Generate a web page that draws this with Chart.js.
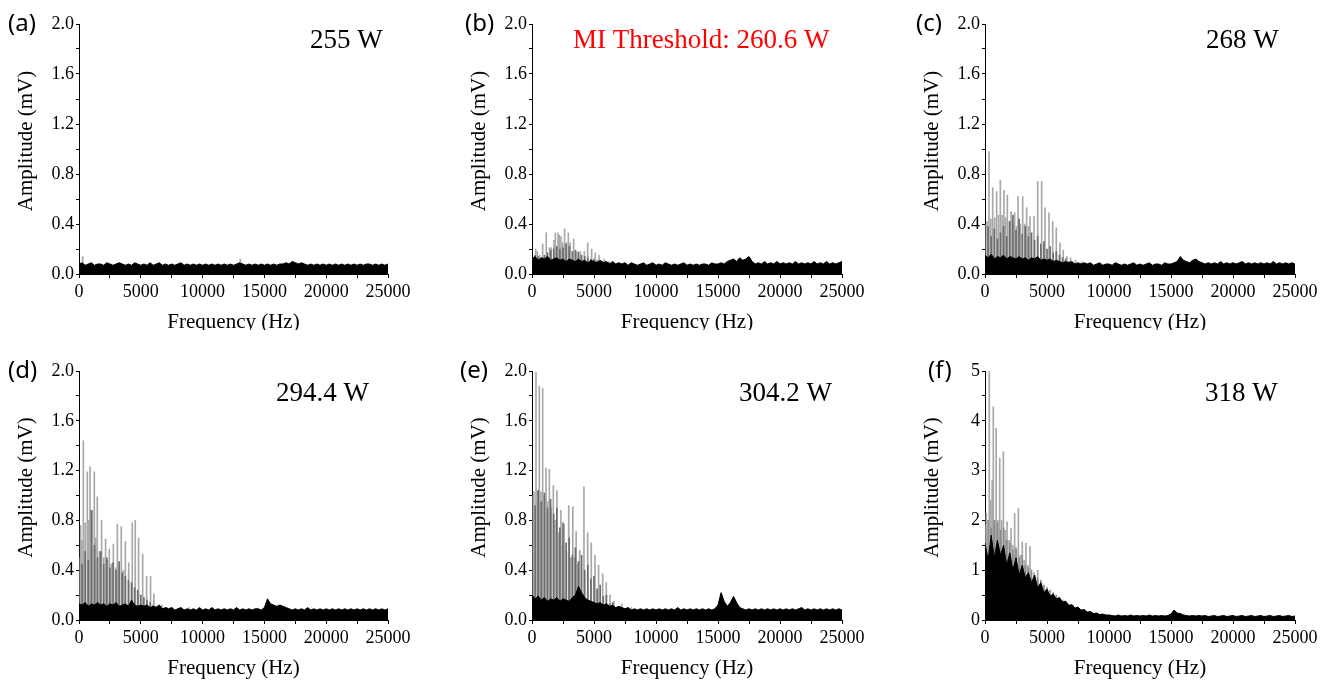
<!DOCTYPE html>
<html><head><meta charset="utf-8">
<script src="https://cdn.jsdelivr.net/npm/chart.js@4/dist/chart.umd.min.js"></script>
<style>
html,body{margin:0;padding:0;background:#fff;}
#wrap{position:relative;width:1329px;height:681px;overflow:hidden;background:#fff;}
.cell{position:absolute;overflow:hidden;}
canvas{display:block;}
</style></head><body><div id="wrap"></div>
<script>
// ---------------- DATA ----------------
const freq = [0,250,500,750,1000,1250,1500,1750,2000,2250,2500,2750,3000,3250,3500,3750,4000,4250,4500,4750,
5000,5250,5500,5750,6000,6250,6500,6750,7000,7250,7500,7750,8000,8250,8500,8750,9000,9250,9500,9750,
10000,10250,10500,10750,11000,11250,11500,11750,12000,12250,12500,12750,13000,13250,13500,13750,14000,14250,14500,14750,
15000,15250,15500,15750,16000,16250,16500,16750,17000,17250,17500,17750,18000,18250,18500,18750,19000,19250,19500,19750,
20000,20250,20500,20750,21000,21250,21500,21750,22000,22250,22500,22750,23000,23250,23500,23750,24000,24250,24500,24750,25000];

const xTicks = [0,5000,10000,15000,20000,25000];

// black noise band (upper envelope, mV) on the freq grid
const noiseA = [0.08,0.09,0.07,0.08,0.09,0.07,0.08,0.08,0.07,0.09,0.08,0.07,0.08,0.09,0.08,0.07,0.08,0.07,0.09,0.08,
0.07,0.08,0.07,0.09,0.07,0.08,0.09,0.07,0.08,0.07,0.08,0.07,0.08,0.09,0.07,0.08,0.07,0.08,0.07,0.08,
0.07,0.08,0.07,0.08,0.07,0.08,0.07,0.08,0.07,0.08,0.07,0.08,0.09,0.08,0.07,0.08,0.07,0.08,0.07,0.08,
0.07,0.08,0.07,0.08,0.07,0.08,0.08,0.09,0.08,0.10,0.09,0.08,0.09,0.08,0.07,0.08,0.07,0.08,0.07,0.08,
0.07,0.08,0.07,0.08,0.07,0.08,0.07,0.08,0.07,0.08,0.07,0.08,0.07,0.08,0.08,0.07,0.08,0.07,0.08,0.07,0.08];
const noiseB = [0.12,0.14,0.11,0.13,0.12,0.14,0.11,0.12,0.13,0.11,0.12,0.10,0.12,0.11,0.10,0.12,0.10,0.11,0.09,0.11,
0.10,0.09,0.11,0.09,0.10,0.08,0.10,0.08,0.09,0.08,0.09,0.07,0.09,0.08,0.07,0.08,0.09,0.07,0.08,0.09,
0.07,0.08,0.07,0.09,0.08,0.07,0.08,0.07,0.08,0.09,0.07,0.08,0.07,0.08,0.07,0.08,0.08,0.07,0.09,0.08,
0.08,0.09,0.08,0.10,0.11,0.12,0.10,0.13,0.11,0.12,0.14,0.10,0.08,0.09,0.08,0.10,0.08,0.09,0.08,0.10,
0.08,0.09,0.08,0.09,0.08,0.10,0.08,0.09,0.08,0.09,0.08,0.10,0.08,0.09,0.08,0.10,0.08,0.09,0.08,0.09,0.10];
const noiseC = [0.15,0.13,0.16,0.12,0.14,0.13,0.15,0.12,0.14,0.13,0.12,0.14,0.12,0.13,0.11,0.13,0.12,0.14,0.11,0.12,
0.11,0.12,0.10,0.11,0.10,0.09,0.10,0.09,0.10,0.08,0.09,0.08,0.09,0.08,0.09,0.07,0.08,0.09,0.07,0.08,
0.08,0.07,0.09,0.08,0.07,0.08,0.07,0.08,0.09,0.07,0.08,0.07,0.08,0.09,0.07,0.08,0.08,0.07,0.09,0.08,
0.08,0.09,0.10,0.14,0.11,0.10,0.09,0.11,0.12,0.10,0.09,0.08,0.09,0.08,0.09,0.08,0.10,0.08,0.09,0.08,
0.09,0.08,0.09,0.10,0.08,0.09,0.08,0.09,0.08,0.09,0.08,0.09,0.08,0.10,0.08,0.09,0.08,0.09,0.08,0.09,0.08];
const noiseD = [0.13,0.12,0.14,0.11,0.13,0.12,0.14,0.12,0.13,0.11,0.13,0.12,0.14,0.11,0.12,0.13,0.11,0.16,0.12,0.11,
0.12,0.11,0.12,0.10,0.11,0.10,0.12,0.09,0.10,0.09,0.10,0.08,0.09,0.10,0.08,0.09,0.08,0.09,0.08,0.10,
0.08,0.09,0.08,0.10,0.08,0.09,0.08,0.09,0.08,0.09,0.08,0.10,0.08,0.09,0.08,0.09,0.08,0.09,0.09,0.08,
0.10,0.17,0.13,0.12,0.11,0.12,0.11,0.10,0.09,0.08,0.09,0.08,0.09,0.08,0.10,0.08,0.09,0.08,0.09,0.08,
0.09,0.08,0.09,0.08,0.09,0.08,0.09,0.08,0.09,0.08,0.09,0.08,0.09,0.08,0.09,0.08,0.09,0.08,0.09,0.08,0.09];
const noiseE = [0.20,0.17,0.19,0.16,0.18,0.15,0.17,0.16,0.18,0.15,0.17,0.16,0.15,0.18,0.20,0.27,0.22,0.18,0.16,0.15,
0.14,0.13,0.14,0.12,0.13,0.11,0.12,0.10,0.11,0.10,0.09,0.10,0.08,0.09,0.08,0.09,0.08,0.09,0.08,0.09,
0.08,0.09,0.08,0.09,0.08,0.09,0.08,0.10,0.08,0.09,0.08,0.09,0.08,0.09,0.08,0.09,0.08,0.09,0.08,0.09,
0.12,0.22,0.15,0.11,0.14,0.19,0.14,0.10,0.09,0.08,0.09,0.08,0.09,0.08,0.09,0.08,0.09,0.08,0.09,0.08,
0.09,0.08,0.09,0.08,0.09,0.08,0.09,0.10,0.08,0.09,0.08,0.09,0.08,0.09,0.08,0.09,0.08,0.09,0.08,0.09,0.08];
const noiseF = [1.55,1.20,1.70,1.25,1.60,1.30,1.50,1.10,1.35,1.00,
1.25,0.90,1.10,0.85,0.95,0.75,0.90,0.65,0.75,0.55,
0.62,0.48,0.52,0.42,0.45,0.36,0.38,0.29,0.31,0.24,
0.26,0.20,0.21,0.16,0.17,0.13,0.14,0.11,0.12,0.10,
0.10,0.09,0.08,0.10,0.08,0.09,0.08,0.10,0.08,0.09,
0.08,0.09,0.08,0.10,0.08,0.09,0.08,0.09,0.08,0.09,
0.12,0.20,0.14,0.13,0.10,0.09,0.08,0.09,0.08,0.09,
0.08,0.09,0.07,0.08,0.09,0.07,0.08,0.09,0.07,0.08,
0.09,0.07,0.08,0.09,0.07,0.08,0.09,0.07,0.08,0.09,
0.07,0.08,0.09,0.07,0.08,0.09,0.07,0.08,0.09,0.07,0.08];

// dark-grey haze below 7000 Hz (first 29 points of freq)
const hazeB = [0.12,0.15,0.14,0.13,0.15,0.17,0.19,0.20,0.22,0.20,0.21,0.24,0.22,0.18,0.19,0.17,0.15,0.14,0.13,0.12,0.12,0.11,0.10,0.10,0.09,0.09,0.08,0.08,0.08];
const hazeC = [0.40,0.38,0.30,0.36,0.28,0.33,0.38,0.30,0.42,0.47,0.35,0.44,0.32,0.38,0.30,0.33,0.27,0.30,0.24,0.26,0.20,0.22,0.17,0.18,0.15,0.13,0.12,0.10,0.09];
const hazeD = [0.50,0.45,0.55,0.48,0.88,0.60,0.50,0.55,0.45,0.50,0.42,0.46,0.40,0.47,0.38,0.35,0.32,0.30,0.26,0.24,0.20,0.18,0.16,0.14,0.12,0.11,0.10,0.09,0.08];
const hazeE = [1.00,0.92,1.04,0.95,1.02,0.90,0.97,0.85,0.90,0.74,0.78,0.62,0.66,0.52,0.58,0.47,0.52,0.40,0.44,0.33,0.35,0.25,0.28,0.19,0.20,0.13,0.14,0.09,0.08];
const hazeF = [1.90,2.00,1.85,2.00,1.95,1.80,1.85,1.60,1.55,1.40,1.45,1.25,1.30,1.10,1.05,1.00,0.90,0.85,0.80,0.70,0.65,0.60,0.55,0.50,0.45,0.40,0.35,0.32,0.30];

// light-grey harmonic spikes
const spikeHzA = [300,13050,17300];
const spikeAmpA = [0.14,0.12,0.10];
const spikeHzB = [300,430,600,860,1150,1420,1550,1770,1880,2100,2200,2340,2470,2630,2780,2930,3080,3360,3550,3720,3900,4220,4490,4810,5100,5400,5830,6200];
const spikeAmpB = [0.20,0.18,0.15,0.24,0.33,0.21,0.21,0.27,0.33,0.33,0.31,0.30,0.25,0.36,0.25,0.33,0.25,0.28,0.18,0.18,0.18,0.18,0.25,0.20,0.17,0.15,0.12,0.10];
const spikeHzC = [160,320,470,620,780,940,1090,1235,1380,1530,1660,1800,1950,2100,2250,2390,2530,2660,2850,3040,3200,3360,3500,3630,3950,4250,4570,4840,5160,5460,5750,6050,6310,6600,6900,7300,7800];
const spikeAmpC = [0.42,0.98,0.44,0.69,0.45,0.66,0.47,0.75,0.47,0.67,0.45,0.63,0.42,0.50,0.40,0.49,0.38,0.62,0.40,0.62,0.40,0.53,0.38,0.46,0.46,0.74,0.74,0.53,0.49,0.42,0.37,0.25,0.19,0.14,0.13,0.11,0.10];
const spikeHzD = [135,240,350,500,670,780,890,1080,1240,1360,1480,1650,1830,2000,2150,2300,2450,2600,2780,2950,3100,3250,3420,3600,3750,4020,4310,4550,4820,5150,5470,5790,6060,6400,6700,7100,7500,8900];
const spikeAmpD = [0.76,0.64,1.44,0.78,1.19,0.80,1.23,0.88,1.19,0.66,0.99,0.55,0.80,0.50,0.65,0.48,0.57,0.45,0.61,0.42,0.77,0.44,0.75,0.40,0.63,0.46,0.78,0.80,0.66,0.53,0.35,0.35,0.21,0.12,0.12,0.10,0.10,0.10];
const spikeHzE = [150,322,450,590,720,860,1000,1130,1270,1400,1560,1720,1860,2010,2170,2330,2460,2590,2780,2960,3120,3290,3420,3560,3700,3850,4190,4490,4780,5080,5370,5700,5990,6290,6600,7240,8000];
const spikeAmpE = [1.03,1.99,1.04,1.88,1.03,1.86,1.00,1.22,0.95,1.21,0.90,1.08,0.80,1.04,0.70,0.88,0.60,0.77,0.55,0.92,0.50,0.91,0.50,0.71,0.45,0.56,1.07,0.70,0.62,0.52,0.44,0.37,0.30,0.20,0.15,0.13,0.10];
const spikeHzF = [110,347,470,580,670,800,900,1050,1190,1330,1480,1630,1780,1940,2100,2240,2390,2540,2690,2850,3010,3150,3300,3450,3630,3950,4250,4550,4900,5300,5700,6100,6600,7100];
const spikeAmpF = [2.14,4.99,2.40,2.80,4.28,2.00,3.85,2.00,3.25,2.00,3.38,1.80,1.97,1.60,1.84,1.50,2.14,1.40,2.24,1.30,1.57,1.20,1.54,1.10,1.48,0.95,1.00,0.75,0.60,0.50,0.45,0.40,0.35,0.30];

const letters = ['(a)','(b)','(c)','(d)','(e)','(f)'];
const powerLabels = ['255 W','MI Threshold: 260.6 W','268 W','294.4 W','304.2 W','318 W'];
const yMaxes = [2,2,2,2,2,5];

// ---------------- LAYOUT ----------------
const COL_LEFT=[0,443,886], PAD_L=[0,10,20], PAD_R=[55,44,34];
const ROW_TOP=[0,330], CELL_H=[330,351], CANVAS_H=[345,351], PAD_T=[24,41], PAD_B=[10,0];
const LETTER_X=[[8,22,30],[8,17,42]], LETTER_Y=[24,41];
const LABEL_X=[[310,130,320],[276,296,319]], LABEL_Y=[48,71];
const SERIF='"Liberation Serif","Times New Roman",serif';

const panels=[
 {noise:noiseA,haze:null,hz:spikeHzA,amp:spikeAmpA},
 {noise:noiseB,haze:hazeB,hz:spikeHzB,amp:spikeAmpB},
 {noise:noiseC,haze:hazeC,hz:spikeHzC,amp:spikeAmpC},
 {noise:noiseD,haze:hazeD,hz:spikeHzD,amp:spikeAmpD},
 {noise:noiseE,haze:hazeE,hz:spikeHzE,amp:spikeAmpE},
 {noise:noiseF,haze:hazeF,hz:spikeHzF,amp:spikeAmpF}
];
panels.forEach((p,i)=>{
  if(p.noise.length!==freq.length) throw new Error('noise length '+i+' '+p.noise.length);
  if(p.haze && p.haze.length!==29) throw new Error('haze length '+i);
  if(p.hz.length!==p.amp.length) throw new Error('spike length '+i);
});

const annot={id:'annot',afterDraw(chart,args,o){
  const c=chart.ctx, a=chart.chartArea; c.save();
  c.fillStyle='#000'; c.font='24px "Noto Sans","DejaVu Sans",sans-serif';
  c.textAlign='left'; c.textBaseline='middle'; c.fillText(o.letter,o.lx,o.ly);
  // y-axis title
  c.save(); c.translate(a.left-53,(a.top+a.bottom)/2-8); c.rotate(-Math.PI/2);
  c.font='21px '+SERIF; c.textAlign='center'; c.textBaseline='middle'; c.fillText('Amplitude (mV)',0,0);
  c.restore();
  c.font='27px '+SERIF; c.fillStyle=o.color; c.textBaseline='alphabetic'; c.textAlign='left';
  c.fillText(o.label,o.px,o.py);
  c.restore();
}};

const wrap=document.getElementById('wrap');
panels.forEach((p,i)=>{
  const row=Math.floor(i/3), col=i%3;
  const cell=document.createElement('div'); cell.className='cell';
  cell.style.left=COL_LEFT[col]+'px'; cell.style.top=ROW_TOP[row]+'px';
  cell.style.width='443px'; cell.style.height=CELL_H[row]+'px';
  const cv=document.createElement('canvas'); cv.width=443; cv.height=CANVAS_H[row];
  cv.style.width='443px'; cv.style.height=CANVAS_H[row]+'px';
  cell.appendChild(cv); wrap.appendChild(cell);
  const yMax=yMaxes[i];
  const datasets=[
    {type:'line',label:'band',data:freq.map((f,k)=>({x:f,y:p.noise[k]})),borderColor:'#000',backgroundColor:'#000',borderWidth:1,pointRadius:0,fill:'origin',tension:0,order:0}
  ];
  if(p.haze) datasets.push({type:'bar',label:'haze',data:p.haze.map((v,k)=>({x:freq[k],y:v})),backgroundColor:i===5?'#8a8a8a':'#6c6c6c',barThickness:1,grouped:false,borderWidth:0,order:1});
  datasets.push({type:'bar',label:'spikes',data:p.hz.map((f,k)=>({x:f,y:p.amp[k]})),backgroundColor:'#a8a8a8',barThickness:1,grouped:false,borderWidth:0,order:2});
  new Chart(cv,{
    type:'line',
    data:{datasets},
    options:{
      responsive:false,animation:false,events:[],devicePixelRatio:1,
      layout:{padding:{left:PAD_L[col],right:PAD_R[col],top:PAD_T[row],bottom:PAD_B[row]}},
      plugins:{legend:{display:false},tooltip:{enabled:false},
        annot:{letter:letters[i],lx:LETTER_X[row][col],ly:LETTER_Y[row],label:powerLabels[i],px:LABEL_X[row][col],py:LABEL_Y[row],color:i===1?'#ff0000':'#000'}},
      scales:{
        x:{type:'linear',min:0,max:25000,offset:false,
          ticks:{stepSize:2500,autoSkip:false,maxRotation:0,minRotation:0,padding:3,color:'#000',font:{family:SERIF,size:18},
            callback:v=>xTicks.includes(v)?String(v):''},
          grid:{display:true,drawOnChartArea:false,drawTicks:true,tickLength:4,color:'#000',offset:false},
          border:{display:true,color:'#000',width:1},
          title:{display:true,text:'Frequency (Hz)',color:'#000',font:{family:SERIF,size:21},padding:0},
          afterFit:s=>{s.height=61;}
        },
        y:{type:'linear',min:0,max:yMax,
          ticks:{stepSize:yMax===5?0.5:0.2,autoSkip:false,padding:2,color:'#000',font:{family:SERIF,size:18},
            callback:v=>{ if(yMax===5) return Number.isInteger(v)?String(v):''; const t=Math.round(v*10); return t%4===0?(t/10).toFixed(1):''; }},
          grid:{display:true,drawOnChartArea:false,drawTicks:true,tickLength:3,color:'#000'},
          border:{display:true,color:'#000',width:1},
          title:{display:false},
          afterFit:s=>{s.width=79;}
        }
      }
    },
    plugins:[annot]
  });
});
</script></body></html>
